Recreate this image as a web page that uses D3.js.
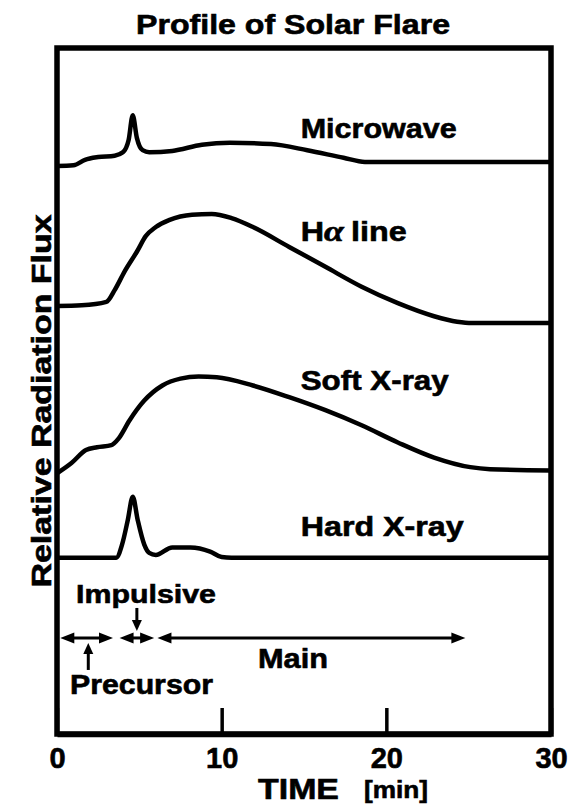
<!DOCTYPE html>
<html>
<head>
<meta charset="utf-8">
<script src="https://cdn.jsdelivr.net/npm/d3@7"></script>
<style>
  html, body { margin: 0; padding: 0; background: #fff; }
  svg { display: block; }
  text { font-family: "Liberation Sans", Arial, sans-serif; font-weight: bold; fill: #000;
         stroke: #000; stroke-width: 0.6px; }
</style>
</head>
<body>
<svg id="chart"></svg>
<script>
// ---- data (time in minutes, flux relative to each curve's own baseline) ----
const seriesNames = ["Microwave", "H\u03b1 line", "Soft X-ray", "Hard X-ray"];

const microwaveT = [0, 1.0, 1.7, 2.5, 3.5, 4.0, 4.35, 4.6, 4.85, 5.2, 5.6, 7.0, 8.8, 10.5, 13.0, 15.2, 17.4, 18.7, 30];
const microwaveF = [0, 0.01, 0.09, 0.13, 0.15, 0.20, 0.38, 0.74, 0.41, 0.23, 0.20, 0.22, 0.31, 0.34, 0.32, 0.23, 0.12, 0.06, 0.06];

const halphaT = [0, 1.5, 3.0, 3.5, 4.1, 4.85, 5.4, 6.0, 6.8, 8.2, 9.4, 10.6, 11.9, 14.1, 16.3, 18.5, 20.7, 22.9, 24.3, 25.2, 30];
const halphaF = [0, 0.01, 0.06, 0.23, 0.50, 0.79, 1.02, 1.15, 1.25, 1.33, 1.34, 1.28, 1.15, 0.86, 0.57, 0.28, 0.04, -0.15, -0.23, -0.25, -0.25];

const softT = [0, 0.88, 1.76, 2.43, 3.3, 3.75, 4.4, 5.3, 6.4, 7.5, 8.6, 9.7, 11.9, 14.1, 16.3, 18.5, 20.7, 22.9, 25.1, 26.3, 30];
const softF = [0, 0.15, 0.34, 0.38, 0.41, 0.51, 0.77, 1.06, 1.28, 1.38, 1.41, 1.40, 1.28, 1.11, 0.92, 0.70, 0.45, 0.23, 0.09, 0.06, 0.04];

const hardT = [0, 3.6, 3.95, 4.3, 4.6, 4.9, 5.3, 5.6, 6.0, 7.0, 8.1, 9.3, 10.0, 10.6, 30];
const hardF = [0, 0, 0.19, 0.55, 0.89, 0.55, 0.19, 0.07, 0.04, 0.15, 0.15, 0.09, 0.01, 0, 0];

const phaseNames = ["Precursor", "Impulsive", "Main"];
const phaseStart = [0.2, 3.8, 6.1];
const phaseEnd = [3.4, 5.9, 24.8];

const xTicks = [0, 10, 20, 30];

// ---- layout ----
const width = 569, height = 807;
const baseLevel = [8.28, 6.24, 3.80, 2.57];   // where each curve sits in the stack
const labelLevel = [8.69, 7.18, 5.01, 2.89];  // label baselines, same units
const labelTime = 14.8;

const svg = d3.select("#chart").attr("width", width).attr("height", height);

const x = d3.scaleLinear().domain([0, 30]).range([57, 551]);
const y = d3.scaleLinear().domain([0, 10]).range([734, 48]);

// stretched bold text like the scanned lettering
function label(g, str, px, py, size, len, anchor) {
    const t = g.append("text")
        .attr("x", px).attr("y", py)
        .style("font-size", size + "px")
        .attr("text-anchor", anchor || "start")
        .text(str);
    if (len) t.attr("textLength", len).attr("lengthAdjust", "spacingAndGlyphs");
    return t;
}

// title
label(svg, "Profile of Solar Flare", 136, 34, 27, 314);

// curves
const series = [
    [microwaveT, microwaveF],
    [halphaT, halphaF],
    [softT, softF],
    [hardT, hardF]
];

const line = d3.line()
    .x(d => x(d[0]))
    .y(d => y(d[1]))
    .curve(d3.curveMonotoneX);

series.forEach((s, i) => {
    const pts = s[0].map((t, j) => [t, baseLevel[i] + s[1][j]]);
    svg.append("path")
        .datum(pts)
        .attr("d", line)
        .attr("fill", "none")
        .attr("stroke", "#000")
        .attr("stroke-width", 4.5)
        .attr("stroke-linejoin", "round");
});

// curve labels
seriesNames.forEach((name, i) => {
    const lens = [156, 106, 148, 163];
    if (i === 1) {
        const t = svg.append("text")
            .attr("x", x(labelTime)).attr("y", y(labelLevel[i]))
            .style("font-size", "27px");
        t.append("tspan").text("H");
        t.append("tspan")
            .style("font-family", "'Liberation Serif', 'DejaVu Serif', serif")
            .style("font-style", "italic")
            .style("font-size", "30px")
            .text("\u03b1");
        t.append("tspan").attr("dx", 6).text("line");
        t.attr("textLength", lens[i]).attr("lengthAdjust", "spacingAndGlyphs");
    } else {
        label(svg, name, x(labelTime), y(labelLevel[i]), 27, lens[i]);
    }
});

// frame + axis
svg.append("rect")
    .attr("x", x(0)).attr("y", y(10))
    .attr("width", x(30) - x(0)).attr("height", y(0) - y(10))
    .attr("fill", "none")
    .attr("stroke", "#000")
    .attr("stroke-width", 5.5);

const xAxis = d3.axisBottom(x)
    .tickValues(xTicks)
    .tickSizeInner(-26)
    .tickSizeOuter(0)
    .tickPadding(13)
    .tickFormat(d3.format("d"));

const ax = svg.append("g")
    .attr("transform", `translate(0,${y(0)})`)
    .call(xAxis);
ax.select(".domain").attr("stroke-width", 5.5);
ax.selectAll(".tick line").attr("stroke-width", 3.5);
ax.selectAll(".tick text")
    .attr("fill", "#000")
    .style("font-family", "'Liberation Sans', Arial, sans-serif")
    .style("font-weight", "bold")
    .style("font-size", "29px")
    .attr("dy", "0.71em");

label(svg, "TIME", 258, 799, 29, 81);
label(svg, "[min]", 364, 798, 24, 64);

// y label
svg.append("text")
    .attr("transform", "translate(51,401) rotate(-90)")
    .attr("text-anchor", "middle")
    .style("font-size", "27px")
    .attr("textLength", 373)
    .attr("lengthAdjust", "spacingAndGlyphs")
    .text("Relative Radiation Flux");

// phase arrows
const arrowLevel = 1.40;
const ay = y(arrowLevel);

function head(px, py, dir, len, half) {
    // dir: "l","r","u","d" -> tip at (px,py)
    let p;
    if (dir === "l") p = [[px, py], [px + len, py - half], [px + len, py + half]];
    if (dir === "r") p = [[px, py], [px - len, py - half], [px - len, py + half]];
    if (dir === "u") p = [[px, py], [px - half, py + len], [px + half, py + len]];
    if (dir === "d") p = [[px, py], [px - half, py - len], [px + half, py - len]];
    svg.append("path").attr("d", "M" + p.join("L") + "Z").attr("fill", "#000");
}

phaseNames.forEach((name, i) => {
    const x0 = x(phaseStart[i]), x1 = x(phaseEnd[i]);
    svg.append("line")
        .attr("x1", x0 + 6).attr("x2", x1 - 6)
        .attr("y1", ay).attr("y2", ay)
        .attr("stroke", "#000").attr("stroke-width", 3);
    head(x0, ay, "l", 14, 5.5);
    head(x1, ay, "r", 14, 5.5);
});

// Impulsive pointer (down) and Precursor pointer (up)
const impX = x(4.85), preX = x(1.9);
svg.append("line").attr("x1", impX).attr("x2", impX)
    .attr("y1", ay - 30).attr("y2", ay - 14)
    .attr("stroke", "#000").attr("stroke-width", 3);
head(impX, ay - 7, "d", 11, 5);
svg.append("line").attr("x1", preX).attr("x2", preX)
    .attr("y1", ay + 14).attr("y2", ay + 32)
    .attr("stroke", "#000").attr("stroke-width", 3);
head(preX, ay + 5, "u", 11, 5);

// phase labels
label(svg, "Impulsive", 76, 603, 26, 140);
label(svg, "Main", 258, 668, 27, 70);
label(svg, "Precursor", 70, 694, 27, 143);
</script>
</body>
</html>
